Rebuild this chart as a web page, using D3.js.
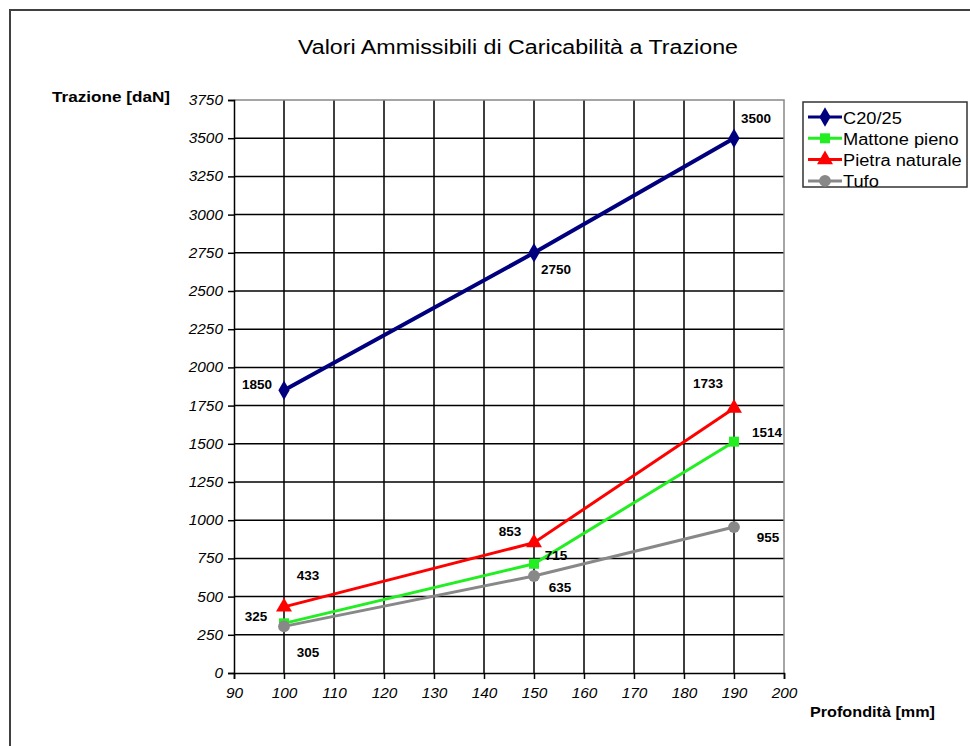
<!DOCTYPE html>
<html><head><meta charset="utf-8">
<script src="https://cdn.jsdelivr.net/npm/d3@7"></script>
<style>body{margin:0;background:#fff}svg{display:block}</style>
</head><body>
<svg id="c" width="970" height="746"></svg>
<script>
const xValues = [100, 150, 190];
const seriesNames = ["C20/25", "Mattone pieno", "Pietra naturale", "Tufo"];
const c2025 = [1850, 2750, 3500];
const mattone = [325, 715, 1514];
const pietra = [433, 853, 1733];
const tufo = [305, 635, 955];
const xTicks = [90, 100, 110, 120, 130, 140, 150, 160, 170, 180, 190, 200];
const yTicks = [0, 250, 500, 750, 1000, 1250, 1500, 1750, 2000, 2250, 2500, 2750, 3000, 3250, 3500, 3750];

const colors = ["#00007f", "#22ee22", "#ff0000", "#888888"];
const symbols = [d3.symbolDiamond, d3.symbolSquare, d3.symbolTriangle, d3.symbolCircle];
const symSizes = [110, 100, 110, 110];
const widths = [4, 3, 3, 3];
// label offsets (layout only)
const labelOff = [
  [[-27, -6], [22, 17], [22, -20]],
  [[-28, -7], [22, -8], [33, -9]],
  [[24, -31], [-24, -11], [-26, -25]],
  [[24, 26], [26, 12], [34, 10]]
];
const allSeries = [c2025, mattone, pietra, tufo];
const FONT = "Liberation Sans, Arial, sans-serif";

const svg = d3.select("#c");
const W = 970, H = 746;
svg.append("path").attr("d", `M10,${H} L10,10 L${W},10`).attr("fill", "none").attr("stroke", "#404040").attr("stroke-width", 2);

const x = d3.scaleLinear().domain([90, 200]).range([234, 784]);
const y = d3.scaleLinear().domain([0, 3750]).range([673, 100]);

const g = svg.append("g");
g.selectAll(".hg").data(yTicks.filter(d => d > 0 && d < 3750)).join("line")
  .attr("x1", x(90)).attr("x2", x(200)).attr("y1", d => y(d)).attr("y2", d => y(d))
  .attr("stroke", "#000").attr("stroke-width", 1.5);
g.selectAll(".vg").data(xTicks.filter(d => d > 90 && d < 200)).join("line")
  .attr("y1", y(0)).attr("y2", y(3750)).attr("x1", d => x(d)).attr("x2", d => x(d))
  .attr("stroke", "#000").attr("stroke-width", 1.5);
g.append("path").attr("d", `M${x(90)},${y(3750)} L${x(200)},${y(3750)} L${x(200)},${y(0)}`)
  .attr("fill", "none").attr("stroke", "#888").attr("stroke-width", 1.5);

function stretch(sel, f) {
  sel.each(function () {
    const w = this.getComputedTextLength();
    d3.select(this).attr("textLength", w * f).attr("lengthAdjust", "spacingAndGlyphs");
  });
}

const yAxis = d3.axisLeft(y).tickValues(yTicks).tickFormat(d3.format("d")).tickSize(6).tickPadding(5);
const xAxis = d3.axisBottom(x).tickValues(xTicks).tickFormat(d3.format("d")).tickSize(6).tickPadding(9);
const ya = svg.append("g").attr("transform", `translate(${x(90)},0)`).call(yAxis);
const xa = svg.append("g").attr("transform", `translate(0,${y(0)})`).call(xAxis);
[ya, xa].forEach(a => {
  a.attr("font-size", null).attr("font-family", null);
  a.select(".domain").attr("stroke", "#000").attr("stroke-width", 1.5);
  a.selectAll(".tick line").attr("stroke", "#000").attr("stroke-width", 1.5);
  a.selectAll("text").style("font-family", FONT)
    .style("font-size", "14px").style("font-style", "italic").attr("fill", "#000");
  stretch(a.selectAll("text"), 1.1);
});

allSeries.forEach((vals, i) => {
  const pts = vals.map((v, j) => [xValues[j], v]);
  svg.append("path").datum(pts)
    .attr("d", d3.line().x(d => x(d[0])).y(d => y(d[1])))
    .attr("fill", "none").attr("stroke", colors[i]).attr("stroke-width", widths[i]);
  svg.selectAll(null).data(pts).join("path")
    .attr("transform", d => `translate(${x(d[0])},${y(d[1])})`)
    .attr("d", d3.symbol().type(symbols[i]).size(symSizes[i]))
    .attr("fill", colors[i]);
});
allSeries.forEach((vals, i) => {
  vals.forEach((v, j) => {
    svg.append("text")
      .attr("x", x(xValues[j]) + labelOff[i][j][0])
      .attr("y", y(v) + labelOff[i][j][1])
      .attr("text-anchor", "middle").attr("dominant-baseline", "central")
      .attr("font-family", FONT)
      .attr("font-size", 13.5).attr("font-weight", "bold").text(v);
  });
});

svg.append("text").attr("x", 518).attr("y", 54).attr("text-anchor", "middle")
  .attr("font-family", FONT).attr("font-size", 20)
  .attr("textLength", 440).attr("lengthAdjust", "spacingAndGlyphs")
  .text("Valori Ammissibili di Caricabilità a Trazione");
svg.append("text").attr("x", 52).attr("y", 102)
  .attr("font-family", FONT).attr("font-size", 14).attr("font-weight", "bold")
  .attr("textLength", 118).attr("lengthAdjust", "spacingAndGlyphs")
  .text("Trazione [daN]");
svg.append("text").attr("x", 810).attr("y", 717)
  .attr("font-family", FONT).attr("font-size", 14).attr("font-weight", "bold")
  .attr("textLength", 125).attr("lengthAdjust", "spacingAndGlyphs")
  .text("Profondità [mm]");

const lg = svg.append("g");
lg.append("rect").attr("x", 803).attr("y", 102).attr("width", 164).attr("height", 85)
  .attr("fill", "#fff").attr("stroke", "#333").attr("stroke-width", 1.5);
seriesNames.forEach((n, i) => {
  const yy = 117 + i * 21.3;
  lg.append("line").attr("x1", 808).attr("x2", 842).attr("y1", yy).attr("y2", yy)
    .attr("stroke", colors[i]).attr("stroke-width", 3);
  lg.append("path").attr("transform", `translate(825,${yy})`)
    .attr("d", d3.symbol().type(symbols[i]).size(symSizes[i])).attr("fill", colors[i]);
  const t = lg.append("text").attr("x", 843).attr("y", yy + 1).attr("dominant-baseline", "central")
    .attr("font-family", FONT).attr("font-size", 16).text(n);
  stretch(t, 1.14);
});
</script>
</body></html>
